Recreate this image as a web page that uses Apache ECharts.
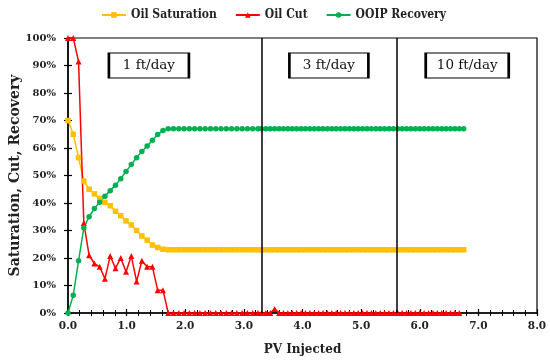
<!DOCTYPE html>
<html><head><meta charset="utf-8">
<script src="https://cdn.jsdelivr.net/npm/echarts@6/dist/echarts.min.js"></script>
<style>html,body{margin:0;padding:0;background:#fff}#c{width:550px;height:362px}</style>
</head><body><div id="c"></div>
<script>
var pvInjected = [
 0.00,0.09,0.18,0.27,0.36,0.45,0.54,0.63,0.72,0.81,0.90,0.99,1.08,1.17,1.26,1.35,1.44,1.53,1.62,1.71,
 1.80,1.89,1.98,2.07,2.16,2.25,2.34,2.43,2.52,2.61,2.70,2.79,2.88,2.97,3.06,3.15,3.24,
 3.300,3.375,3.450,3.525,3.600,3.675,3.750,3.825,3.900,3.975,4.050,4.125,4.200,4.275,4.350,4.425,
 4.500,4.575,4.650,4.725,4.800,4.875,4.950,5.025,5.100,5.175,5.250,5.325,5.400,5.475,5.550,
 5.625,5.700,5.775,5.850,5.925,6.000,6.075,6.150,6.225,6.300,6.375,6.450,6.525,6.600,6.675,6.750
];
var oilSaturation = [
 70,65,56.5,48,45,43.3,41.7,40.2,39,37,35.4,33.5,32,30,28,26.5,24.7,23.8,23.2,23,
 23,23,23,23,23,23,23,23,23,23,23,23,23,23,23,23,23,
 23,23,23,23,23,23,23,23,23,23,23,23,23,23,23,23,
 23,23,23,23,23,23,23,23,23,23,23,23,23,23,23,
 23,23,23,23,23,23,23,23,23,23,23,23,23,23,23,23
];
var oilCut = [
 100,100,91.5,32.7,21,18,16.8,12.5,20.7,16.3,20,15,20.7,11.5,19,16.8,16.8,8.3,8.3,0,
 0,0,0,0,0,0,0,0,0,0,0,0,0,0,0,0,0,
 0,0,0,1.5,0,0,0,0,0,0,0,0,0,0,0,0,
 0,0,0,0,0,0,0,0,0,0,0,0,0,0,0,
 0,0,0,0,0,0,0,0,0,0,0,0,0,0,0
];
var ooipRecovery = [
 0,6.5,19,31,35,38,40.3,42.5,44.5,46.5,48.8,51.5,54,56.5,58.7,60.7,62.8,64.9,66.4,67,
 67,67,67,67,67,67,67,67,67,67,67,67,67,67,67,67,67,
 67,67,67,67,67,67,67,67,67,67,67,67,67,67,67,67,
 67,67,67,67,67,67,67,67,67,67,67,67,67,67,67,
 67,67,67,67,67,67,67,67,67,67,67,67,67,67,67,67
];
var seriesNames = ['Oil Saturation','Oil Cut','OOIP Recovery'];
var rateBoundaries = [3.3, 5.6];
var rateLabels = ['1 ft/day','3 ft/day','10 ft/day'];

function pairs(v){ var out=[]; for(var i=0;i<v.length;i++) out.push([pvInjected[i], v[i]]); return out; }

var FONT = 'DejaVu Serif';
var CFONT = '"DejaVu Serif Condensed", "DejaVu Serif"';
var chart = echarts.init(document.getElementById('c'), null, {renderer:'canvas'});
var boxStyle = {color:'#fff', borderColor:'#000', borderWidth:1.5};
var option = {
  animation:false,
  backgroundColor:'#fff',
  textStyle:{fontFamily:FONT},
  legend:{
    top:4, left:96, itemWidth:24, itemHeight:7, itemGap:18,
    textStyle:{fontFamily:CFONT, fontSize:12, fontWeight:'bold', color:'#222'},
    data:seriesNames
  },
  grid:{left:68, right:13, top:38, bottom:49, containLabel:false, outerBoundsMode:'none',
        show:true, borderColor:'#000', borderWidth:1.2, backgroundColor:'transparent'},
  xAxis:[{
    type:'value', min:0, max:8, interval:1, name:'PV Injected', nameLocation:'middle', nameGap:31, nameMoveOverlap:false,
    nameTextStyle:{fontFamily:FONT, fontSize:12, fontWeight:'bold', color:'#222'},
    axisLine:{onZero:false, lineStyle:{color:'#000', width:1.5}},
    axisTick:{show:true, inside:false, length:3, lineStyle:{color:'#000', width:1.2}},
    minorTick:{show:true, splitNumber:5, length:3, lineStyle:{color:'#000'}},
    splitLine:{show:false},
    axisLabel:{fontFamily:FONT, fontSize:10.5, fontWeight:'bold', color:'#222', margin:8, formatter:function(v){return v.toFixed(1);}}
  },{
    type:'value', min:0, max:8, interval:1, position:'bottom',
    axisLine:{show:false}, axisTick:{show:true, inside:true, length:4, lineStyle:{color:'#000', width:1.2}},
    minorTick:{show:true, splitNumber:5, length:3, lineStyle:{color:'#000'}},
    axisLabel:{show:false}, splitLine:{show:false}
  }],
  yAxis:[{
    type:'value', min:0, max:100, interval:10, name:'Saturation, Cut, Recovery', nameLocation:'middle', nameGap:46, nameMoveOverlap:false,
    nameTextStyle:{fontFamily:FONT, fontSize:14, fontWeight:'bold', color:'#222'},
    axisLine:{lineStyle:{color:'#000', width:1.5}},
    axisTick:{show:true, inside:false, length:4, lineStyle:{color:'#000', width:1.2}},
    splitLine:{show:false},
    axisLabel:{fontFamily:FONT, fontSize:10, fontWeight:'bold', color:'#222', margin:12, formatter:'{value}%'}
  },{
    type:'value', min:0, max:100, interval:10, position:'left',
    axisLine:{show:false}, axisTick:{show:true, inside:true, length:4, lineStyle:{color:'#000', width:1.2}},
    axisLabel:{show:false}, splitLine:{show:false}
  }],
  series:[
    {name:seriesNames[0], type:'line', data:pairs(oilSaturation), symbol:'rect', symbolSize:5.5, showAllSymbol:true,
     color:'#FFC000', lineStyle:{width:1.5, color:'#FFC000'}, itemStyle:{color:'#FFC000'},
     markLine:{silent:true, symbol:'none', label:{show:false}, lineStyle:{color:'#000', width:1.5, type:'solid'},
       data:rateBoundaries.map(function(b){return {xAxis:b};})},
     markPoint:{silent:true, symbol:'rect', itemStyle:boxStyle,
       label:{show:true, color:'#111', fontFamily:FONT, fontSize:13.5},
       data:[
         {coord:[1.38,90], value:rateLabels[0], symbolSize:[80,25], label:{formatter:rateLabels[0]}},
         {coord:[4.45,90], value:rateLabels[1], symbolSize:[79,25], label:{formatter:rateLabels[1]}},
         {coord:[6.81,90], value:rateLabels[2], symbolSize:[83,25], label:{formatter:rateLabels[2]}}
       ]}
    },
    {name:seriesNames[1], type:'line', data:pairs(oilCut), symbol:'triangle', symbolSize:6, showAllSymbol:true,
     color:'#FF0000', lineStyle:{width:1.5, color:'#FF0000'}, itemStyle:{color:'#FF0000'}},
    {name:seriesNames[2], type:'line', data:pairs(ooipRecovery), symbol:'circle', symbolSize:5.5, showAllSymbol:true,
     color:'#00B050', lineStyle:{width:1.5, color:'#00B050'}, itemStyle:{color:'#00B050'}}
  ]
};
chart.setOption(option);
</script></body></html>
